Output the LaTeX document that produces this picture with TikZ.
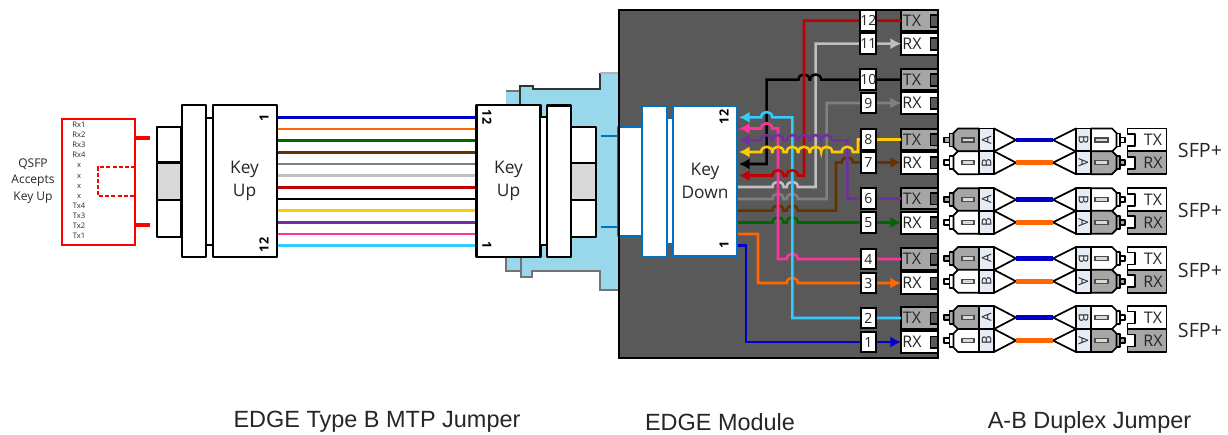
\documentclass[tikz,border=0pt]{standalone}
\usepackage{fontspec}
\setmainfont{Open Sans}
\newfontfamily\arialfont{Liberation Sans}
\usetikzlibrary{arrows.meta}
\definecolor{cBlue}{HTML}{0000C8}
\definecolor{cOrange}{HTML}{FF6600}
\definecolor{cGreen}{HTML}{006600}
\definecolor{cBrown}{HTML}{663300}
\definecolor{cGray}{HTML}{808080}
\definecolor{cLight}{HTML}{BFBFBF}
\definecolor{cRed}{HTML}{C00000}
\definecolor{cYellow}{HTML}{FFCC00}
\definecolor{cPurple}{HTML}{7030A0}
\definecolor{cPink}{HTML}{FF3399}
\definecolor{cCyan}{HTML}{33CCFF}
\definecolor{cEdge}{HTML}{0070C0}
\definecolor{cAdapter}{HTML}{99D7EA}
\definecolor{cDark}{HTML}{595959}
\definecolor{cMid}{HTML}{A6A6A6}
\definecolor{cPale}{HTML}{D9D9D9}
\definecolor{cLabel}{HTML}{E6ECF5}
\definecolor{cText}{HTML}{262626}
\newcommand{\hopR}[2]{-- ({#1-5.5},#2) .. controls ({#1-5.5},{#2-7}) and ({#1+5.5},{#2-7}) .. ({#1+5.5},#2)}
\tikzset{
  x=0.75pt,y=-0.75pt,
  blk/.style={draw=black,line width=1.7pt,fill=white,line join=round},
  edgebox/.style={draw=cEdge,line width=1.7pt,fill=white,line join=round},
  fiber/.style={line width=1.9pt},
  wire/.style={line width=1.9pt,line join=miter},
  wirearrow/.style={wire,-{Latex[length=8pt,width=8.5pt]}},
  backarrow/.style={wire,{Latex[length=8pt,width=8.5pt]}-},
  numbox/.style={draw=black,line width=1.4pt,fill=white,minimum width=11.5pt,minimum height=15.5pt,inner sep=0pt,font=\fontsize{10.5}{12}\selectfont,text=cText},
  txt/.style={inner sep=0pt,text=cText},
  tiny/.style={txt,font=\fontsize{5.7}{6}\selectfont},
  keytxt/.style={txt,align=center,font=\fontsize{13}{17}\selectfont},
  idx/.style={txt,font=\fontsize{9.5}{10}\selectfont\bfseries,text=black},
  porttxt/.style={txt,font=\fontsize{12}{12}\selectfont},
  plabel/.style={txt,font=\fontsize{14.8}{16}\selectfont},
  blabel/.style={inner sep=0pt,text=cText,font=\arialfont\fontsize{17.6}{20}\selectfont},
  lcbody/.style={draw=black,line width=1.3pt,line join=round},
}
\newcommand{\portpair}[4]{%
  \path[draw=black,line width=1.5pt,fill=cMid] (938,{#3-11}) -- (901,{#3-11}) -- (901,{#3+10.5}) -- (938,{#3+10.5});
  \path[draw=black,line width=1.5pt,fill=white] (938,{#4-11}) -- (901,{#4-11}) -- (901,{#4+11}) -- (938,{#4+11});
  \draw[black,line width=1.4pt,fill=cDark] (938,{#3-5.5}) -- (930.5,{#3-5.5}) -- (930.5,{#3+6}) -- (938,{#3+6});
  \draw[black,line width=1.4pt,fill=cDark] (938,{#4-5.5}) -- (930.5,{#4-5.5}) -- (930.5,{#4+6}) -- (938,{#4+6});
  \node[porttxt] (tx#1) at (912,#3) {TX};
  \node[porttxt] (rx#2) at (912,#4) {RX};
  \coordinate (ptx#1) at (901,#3);
  \coordinate (prx#2) at (901,#4);
}
\newcommand{\lcleft}[3]{%
  \draw[lcbody,fill=#2] (944,{#1-2.5}) rectangle (949.5,{#1+2.5});
  \draw[lcbody,fill=#2] (949.5,{#1-6.5}) rectangle (953.5,{#1+6.5});
  \draw[lcbody,fill=#2] (979,{#1-11.5}) -- (958,{#1-11.5}) -- (953.5,{#1-7}) -- (953.5,{#1+7}) -- (958,{#1+11.5}) -- (979,{#1+11.5}) -- cycle;
  \draw[black!70,line width=.8pt,fill=cPale] (962,{#1-2}) rectangle (974,{#1+2});
  \draw[lcbody,fill=white] (994,{#1-11.5}) -- (1016,#1) -- (994,{#1+11.5}) -- cycle;
  \draw[lcbody,fill=cLabel] (979,{#1-11.5}) rectangle (994,{#1+11.5});
  \node[txt,rotate=90,font=\fontsize{10}{10}\selectfont] at (986.5,#1) {#3};
}
\newcommand{\lcright}[3]{%
  \draw[lcbody,fill=#2] (1120,{#1-2.5}) rectangle (1125,{#1+2.5});
  \draw[lcbody,fill=#2] (1116,{#1-6.5}) rectangle (1120,{#1+6.5});
  \draw[lcbody,fill=#2] (1091,{#1-11.5}) -- (1112,{#1-11.5}) -- (1116.5,{#1-7}) -- (1116.5,{#1+7}) -- (1112,{#1+11.5}) -- (1091,{#1+11.5}) -- cycle;
  \draw[black!70,line width=.8pt,fill=cPale] (1095,{#1-2}) rectangle (1108,{#1+2});
  \draw[lcbody,fill=white] (1076,{#1-11.5}) -- (1053,#1) -- (1076,{#1+11.5}) -- cycle;
  \draw[lcbody,fill=cLabel] (1076,{#1-11.5}) rectangle (1091,{#1+11.5});
  \node[txt,rotate=-90,font=\fontsize{10}{10}\selectfont] at (1083.5,#1) {#3};
}
\newcommand{\duplex}[4]{%
  \lcleft{#2}{cMid}{A}
  \lcleft{#3}{white}{B}
  \lcright{#2}{white}{B}
  \lcright{#3}{cMid}{A}
  \draw[line width=3.7pt,cBlue] (1016,#2) -- (1053,#2);
  \draw[line width=3.7pt,cOrange] (1016,#3) -- (1053,#3);
  \draw[lcbody,fill=white] (1127.5,{#2-11.5}) -- (1166.5,{#2-11.5}) -- (1166.5,{#2+11.5}) -- (1127.5,{#2+11.5}) -- (1127.5,{#2+6}) -- (1135,{#2+6}) -- (1135,{#2-6}) -- (1127.5,{#2-6}) -- cycle;
  \draw[lcbody,fill=cMid] (1127.5,{#3-11.5}) -- (1166.5,{#3-11.5}) -- (1166.5,{#3+11.5}) -- (1127.5,{#3+11.5}) -- (1127.5,{#3+6}) -- (1135,{#3+6}) -- (1135,{#3-6}) -- (1127.5,{#3-6}) -- cycle;
  \node[porttxt] (sfptx#1) at (1153,#2) {TX};
  \node[porttxt] (sfprx#1) at (1153,#3) {RX};
  \node[plabel] (sfp#1) at (1200,#4) {SFP+};
}
\begin{document}
\begin{tikzpicture}
\useasboundingbox (0,0) rectangle (1228,435);
% --- QSFP ---
\draw[red,line width=1.5pt] (62,118.5) rectangle (135,245);
\draw[red,line width=1.3pt,dashed,dash pattern=on 3pt off 1.6pt] (135,166.7) -- (98,166.7) -- (98,196) -- (135,196);
\coordinate (qa) at (135,137.7);
\coordinate (qb) at (135,224.7);
\coordinate (qae) at (150,137.7);
\coordinate (qbe) at (150,224.7);
\draw[red,line width=2.8pt] (qa) -- (qae);
\draw[red,line width=2.8pt] (qb) -- (qbe);
\foreach \t/\y/\i in {Rx1/125/1,Rx2/135/2,Rx3/145/3,Rx4/155/4,x/165.5/5,x/176/6,x/186/7,x/196.5/8,Tx4/206/9,Tx3/216/10,Tx2/226/11,Tx1/236/12}
  \node[tiny] (q\i) at (79,\y) {\t};
\node[txt,align=center,font=\fontsize{9}{12.4}\selectfont] (qsfp) at (33,181) {QSFP\\Accepts\\Key Up};
% --- left connector ---
\draw[blk] (157,126.7) rectangle (181,162.5);
\draw[blk,fill=cPale] (157,162.5) rectangle (181,200);
\draw[blk] (157,200) rectangle (181,236.7);
\draw[blk] (182,105) rectangle (206,257);
\draw[black,line width=1.5pt] (206,117.7) -- (213,117.7);
\draw[black,line width=1.5pt] (206,245) -- (213,245);
\node[blk,minimum width=48pt,minimum height=114pt,inner sep=0pt] (ku) at (245,181) {};
\node[keytxt] (kut) at (244.5,181) {Key\\Up};
\node[idx,rotate=90] (ku1) at (264,117.5) {1};
\node[idx,rotate=90] (ku12) at (264,245) {12};
% --- adapter ---
\path[fill=cAdapter] (506,91) -- (520,91) -- (520,86) -- (533,86) -- (533,89) -- (600,89) -- (600,73) -- (620,73) -- (620,290) -- (600,290) -- (600,271) -- (532,271) -- (532,277) -- (521,277) -- (521,271) -- (506,271) -- cycle;
\draw[black!55,line width=.8pt] (506,91) -- (520,91);
\draw[black!80,line width=1pt] (520,105) -- (520,86) -- (533,86) -- (533,89) -- (600,89) -- (600,73);
\draw[black!30,line width=.8pt] (600,73) -- (619,73);
\draw[black!55,line width=.8pt] (506,257) -- (506,271) -- (520,271);
\draw[black!55,line width=.8pt] (521,257) -- (521,277) -- (532,277) -- (532,271) -- (600,271) -- (600,290) -- (619,290);
% --- fibers ---
\node[blk,minimum width=48pt,minimum height=114pt,inner sep=0pt] (kr) at (508.5,181) {};
\foreach \c/\y/\i in {cBlue/117.3/1,cOrange/128.8/2,cGreen/140.7/3,cBrown/152.3/4,cGray/164/5,cLight/175.7/6,cRed/187.5/7,black/199/8,cYellow/210.7/9,cPurple/222.5/10,cPink/234.2/11,cCyan/245.7/12}
  \draw[fiber,\c] (ku.east |- 0,\y) -- (kr.west |- 0,\y);
\node[keytxt] (krt) at (508.5,181) {Key\\Up};
\node[idx,rotate=-90] (kr12) at (487,117) {12};
\node[idx,rotate=-90] (kr1) at (487,245) {1};
\draw[blk,line width=1.4pt] (540,117.3) rectangle (547,245);
\draw[blk] (547,105.5) rectangle (571.3,257);
\draw[blk] (571.3,126.7) rectangle (596,162.7);
\draw[blk,fill=cPale] (571.3,162.7) rectangle (596,200);
\draw[blk] (571.3,200) rectangle (596,236.7);
% --- module ---
\path[fill=cDark] (619,10) rectangle (938,358);
\draw[cEdge,line width=1.5pt] (600.7,135.7) -- (619,135.7);
\draw[cEdge,line width=1.5pt] (600.7,227.3) -- (619,227.3);
\draw[edgebox] (618.5,126.7) rectangle (642.3,235.7);
\draw[edgebox] (642.3,105.7) rectangle (666.7,256.7);
\draw[edgebox] (666.7,118.3) rectangle (673.3,244.3);
\node[edgebox,minimum width=48pt,minimum height=113pt,inner sep=0pt] (kd) at (705.3,181.2) {};
\node[keytxt] (kdt) at (705,181) {Key\\Down};
\node[idx,rotate=90] (kd12) at (724,117) {12};
\node[idx,rotate=90] (kd1) at (724,245) {1};
% --- ports ---
\portpair{12}{11}{20.7}{43.7}
\portpair{10}{9}{79.7}{103}
\portpair{8}{7}{139.5}{162.5}
\portpair{6}{5}{198.5}{222.5}
\portpair{4}{3}{259}{283}
\portpair{2}{1}{318}{342}
\coordinate (k1) at (738,245.7);
\coordinate (k2) at (738,234);
\coordinate (k3) at (738,222.5);
\coordinate (k4) at (738,210.7);
\coordinate (k5) at (738,199);
\coordinate (k6) at (738,187);
\coordinate (k7) at (739,175.5);
\coordinate (k8) at (739,164);
\coordinate (k9) at (739,152);
\coordinate (k10) at (739,140.3);
\coordinate (k11) at (739,128.5);
\coordinate (k12) at (739,117.3);
% --- wires ---
\draw[wirearrow,cBlue] (k1) -- (746,245.7) -- (746,342) -- (prx1);
\draw[wirearrow,cOrange] (k2) -- (758,234) -- (758,283) \hopR{792.3}{283} -- (prx3);
\draw[wirearrow,cGreen] (k3) \hopR{778}{222.5} \hopR{792.3}{222.5} -- (prx5);
\draw[wire,cBrown] (k4) \hopR{778}{210.7} \hopR{792.3}{210.7} -- (836,210.7) -- (836,162.5) -- (840,162.5);
\draw[wirearrow,cBrown] (836,162.5) \hopR{847.3}{162.5} -- (prx7);
\draw[wirearrow,cGray] (k5) \hopR{778}{199} \hopR{792.3}{199} -- (826.7,199) -- (826.7,103) -- (prx9);
\draw[wirearrow,cLight] (k6) \hopR{778}{187} \hopR{792.3}{187} -- (815.7,187) -- (815.7,43.7) -- (prx11);
\draw[backarrow,black] (k8) -- (766.7,164) -- (766.7,79.7) \hopR{804}{79.7} \hopR{815.7}{79.7} -- (ptx10);
\draw[backarrow,cPink] (k11) \hopR{766.7}{128.5} -- (778,128.5) -- (778,259) \hopR{792.3}{259} -- (ptx4);
\draw[backarrow,cCyan] (k12) \hopR{766.7}{117.3} -- (792.3,117.3) -- (792.3,318) -- (ptx2);
\draw[backarrow,cRed] (k7) \hopR{778}{175.5} \hopR{792.3}{175.5} -- (804,175.5) -- (804,20.7) -- (ptx12);
\draw[backarrow,cPurple] (k10) \hopR{766.7}{140.3} \hopR{778}{140.3} \hopR{792.3}{140.3} \hopR{804}{140.3} \hopR{815.7}{140.3} \hopR{826.7}{140.3} -- (847.3,140.3) -- (847.3,198.5) -- (ptx6);
\draw[backarrow,cYellow] (k9) \hopR{766.7}{152} \hopR{778}{152} \hopR{792.3}{152} \hopR{804}{152} \hopR{815.7}{152} \hopR{826.7}{152} \hopR{847.3}{152} -- (858,152) -- (858,139.5) -- (ptx8);
\foreach \n/\y in {12/20.7,11/43.7,10/79.7,9/103,8/139.5,7/162.5,6/198.5,5/222.5,4/259,3/283,2/318,1/342}
  \node[numbox] (n\n) at (868.3,\y) {\n};
\draw[black,line width=1.7pt] (619,10) rectangle (938,358);
% --- jumpers ---
\duplex{a}{140}{162.7}{150}
\duplex{b}{199.7}{222.3}{210}
\duplex{c}{258.5}{281.3}{270}
\duplex{d}{317.5}{340.5}{330}
% --- captions ---
\node[blabel] (l1) at (377,422) {EDGE Type B MTP Jumper};
\node[blabel] (l2) at (720,422) {EDGE Module};
\node[blabel] (l3) at (1089.5,422) {A-B Duplex Jumper};
\end{tikzpicture}
\end{document}
